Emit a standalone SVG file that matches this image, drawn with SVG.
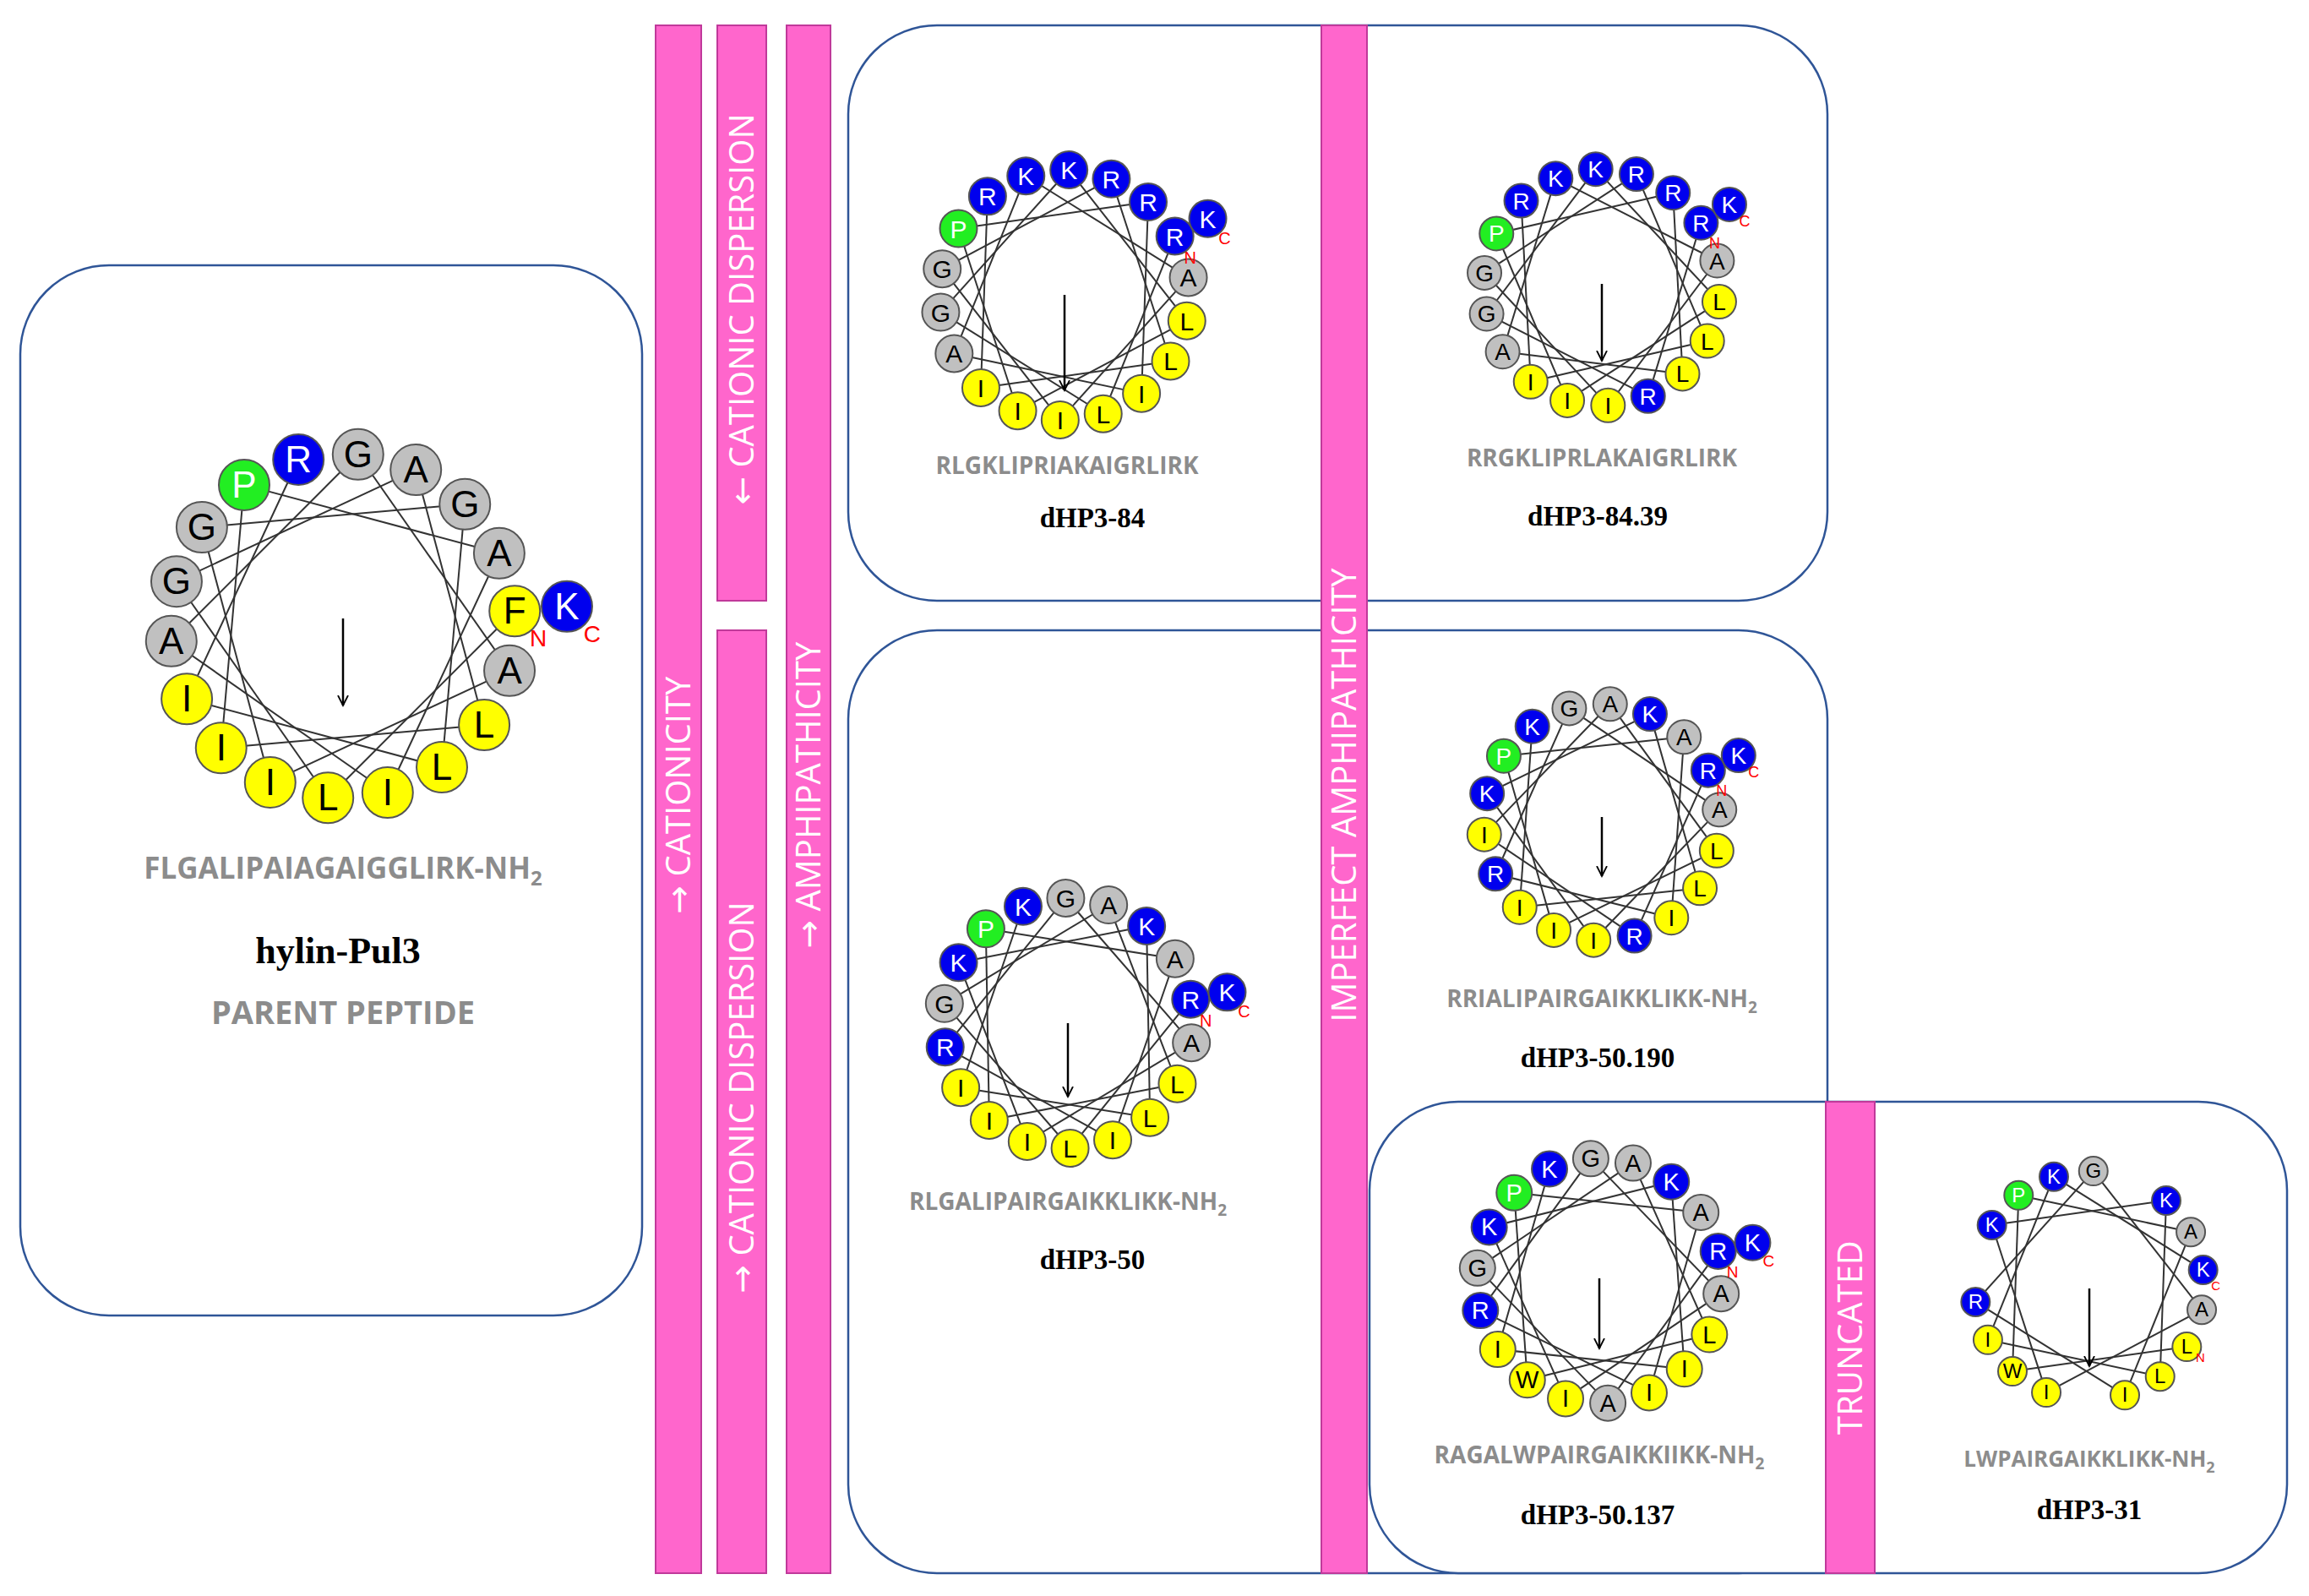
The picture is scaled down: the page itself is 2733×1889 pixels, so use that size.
<svg xmlns="http://www.w3.org/2000/svg" width="2733" height="1889" viewBox="0 0 2733 1889">
<defs>
<style>
.box{fill:#fff;stroke:#2F5597;stroke-width:2.5}
.bar{fill:#FF66CC;stroke:#C0399A;stroke-width:2}
.bt{fill:#fff;font-family:"Open Sans","Liberation Sans",sans-serif;font-size:40px;text-anchor:middle}
.ar{font-family:"DejaVu Sans",sans-serif;font-size:40px}
.ln line{stroke:#333;stroke-width:2;fill:none}
circle{stroke:#555;stroke-width:2}
.b{fill:#0000EE}.g{fill:#22EE22}.y{fill:#FFFF00}.a{fill:#C0C0C0}
.res text{font-family:"Liberation Sans",Arial,sans-serif;text-anchor:middle}
.tk{fill:#000}.tw{fill:#fff}
.res text.nc{fill:#FF0000}
.seq{fill:#8C8C8C;font-family:"Open Sans","Liberation Sans",sans-serif;font-weight:bold;text-anchor:middle}
.nm{fill:#000;font-family:"Liberation Serif","Times New Roman",serif;font-weight:bold;text-anchor:middle}
.arr{stroke:#000;stroke-width:2.5;marker-end:url(#ah)}
</style>
<marker id="ah" markerWidth="14" markerHeight="14" refX="12" refY="7" orient="auto" markerUnits="userSpaceOnUse" viewBox="0 0 14 14"><path d="M0,1 L12,7 L0,13" fill="none" stroke="#000" stroke-width="1.8"/></marker>
</defs>
<rect width="2733" height="1889" fill="#fff"/>

<g id="box-parent"><rect class="box" x="24" y="314" width="736" height="1243" rx="105"/></g>
<g id="box-84"><rect class="box" x="1004" y="30" width="1159" height="681" rx="105"/></g>
<g id="box-50"><rect class="box" x="1004" y="746" width="1159" height="1116" rx="105"/></g>
<g id="box-31"><rect class="box" x="1621" y="1304" width="1086" height="558" rx="105"/></g>

<g id="bar-cationicity"><rect class="bar" x="776" y="30" width="54" height="1832"/><text class="bt" transform="translate(803,941) rotate(-90)" dy="14"><tspan class="ar">→</tspan> CATIONICITY</text></g>
<g id="bar-disp1"><rect class="bar" x="849" y="30" width="58" height="681"/><text class="bt" transform="translate(878,366) rotate(-90)" dy="14"><tspan class="ar">←</tspan> CATIONIC DISPERSION</text></g>
<g id="bar-disp2"><rect class="bar" x="849" y="746" width="58" height="1116"/><text class="bt" transform="translate(878,1299) rotate(-90)" dy="14"><tspan class="ar">→</tspan> CATIONIC DISPERSION</text></g>
<g id="bar-amph"><rect class="bar" x="931" y="30" width="52" height="1832"/><text class="bt" transform="translate(957,941) rotate(-90)" dy="14"><tspan class="ar">→</tspan> AMPHIPATHICITY</text></g>
<g id="bar-imperfect"><rect class="bar" x="1564" y="30" width="54" height="1832"/><text class="bt" transform="translate(1591,941) rotate(-90)" dy="14">IMPERFECT AMPHIPATHICITY</text></g>
<g id="bar-truncated"><rect class="bar" x="2161" y="1304" width="58" height="558"/><text class="bt" transform="translate(2190,1583) rotate(-90)" dy="14">TRUNCATED</text></g>

<g id="connectors" class="ln">
<g transform="translate(406,741)">
<line transform="rotate(85)" y1="-204" x2="200.9" y2="35.4"/><line transform="rotate(185)" y1="-204" x2="200.9" y2="35.4"/><line transform="rotate(285)" y1="-204" x2="200.9" y2="35.4"/><line transform="rotate(25)" y1="-204" x2="200.9" y2="35.4"/><line transform="rotate(125)" y1="-204" x2="200.9" y2="35.4"/><line transform="rotate(225)" y1="-204" x2="200.9" y2="35.4"/><line transform="rotate(325)" y1="-204" x2="200.9" y2="35.4"/><line transform="rotate(65)" y1="-204" x2="200.9" y2="35.4"/><line transform="rotate(165)" y1="-204" x2="200.9" y2="35.4"/><line transform="rotate(265)" y1="-204" x2="200.9" y2="35.4"/><line transform="rotate(5)" y1="-204" x2="200.9" y2="35.4"/><line transform="rotate(105)" y1="-204" x2="200.9" y2="35.4"/><line transform="rotate(205)" y1="-204" x2="200.9" y2="35.4"/><line transform="rotate(305)" y1="-204" x2="200.9" y2="35.4"/><line transform="rotate(45)" y1="-204" x2="200.9" y2="35.4"/><line transform="rotate(145)" y1="-204" x2="200.9" y2="35.4"/><line transform="rotate(245)" y1="-204" x2="200.9" y2="35.4"/>
</g>
<g transform="translate(1260,349)">
<line transform="rotate(62)" y1="-148" x2="145.8" y2="25.7"/><line transform="rotate(162)" y1="-148" x2="145.8" y2="25.7"/><line transform="rotate(262)" y1="-148" x2="145.8" y2="25.7"/><line transform="rotate(2)" y1="-148" x2="145.8" y2="25.7"/><line transform="rotate(102)" y1="-148" x2="145.8" y2="25.7"/><line transform="rotate(202)" y1="-148" x2="145.8" y2="25.7"/><line transform="rotate(302)" y1="-148" x2="145.8" y2="25.7"/><line transform="rotate(42)" y1="-148" x2="145.8" y2="25.7"/><line transform="rotate(142)" y1="-148" x2="145.8" y2="25.7"/><line transform="rotate(242)" y1="-148" x2="145.8" y2="25.7"/><line transform="rotate(342)" y1="-148" x2="145.8" y2="25.7"/><line transform="rotate(82)" y1="-148" x2="145.8" y2="25.7"/><line transform="rotate(182)" y1="-148" x2="145.8" y2="25.7"/><line transform="rotate(282)" y1="-148" x2="145.8" y2="25.7"/><line transform="rotate(22)" y1="-148" x2="145.8" y2="25.7"/><line transform="rotate(122)" y1="-148" x2="145.8" y2="25.7"/><line transform="rotate(222)" y1="-148" x2="145.8" y2="25.7"/>
</g>
<g transform="translate(1896,340)">
<line transform="rotate(57)" y1="-140" x2="137.9" y2="24.3"/><line transform="rotate(157)" y1="-140" x2="137.9" y2="24.3"/><line transform="rotate(257)" y1="-140" x2="137.9" y2="24.3"/><line transform="rotate(357)" y1="-140" x2="137.9" y2="24.3"/><line transform="rotate(97)" y1="-140" x2="137.9" y2="24.3"/><line transform="rotate(197)" y1="-140" x2="137.9" y2="24.3"/><line transform="rotate(297)" y1="-140" x2="137.9" y2="24.3"/><line transform="rotate(37)" y1="-140" x2="137.9" y2="24.3"/><line transform="rotate(137)" y1="-140" x2="137.9" y2="24.3"/><line transform="rotate(237)" y1="-140" x2="137.9" y2="24.3"/><line transform="rotate(337)" y1="-140" x2="137.9" y2="24.3"/><line transform="rotate(77)" y1="-140" x2="137.9" y2="24.3"/><line transform="rotate(177)" y1="-140" x2="137.9" y2="24.3"/><line transform="rotate(277)" y1="-140" x2="137.9" y2="24.3"/><line transform="rotate(17)" y1="-140" x2="137.9" y2="24.3"/><line transform="rotate(117)" y1="-140" x2="137.9" y2="24.3"/><line transform="rotate(217)" y1="-140" x2="137.9" y2="24.3"/>
</g>
<g transform="translate(1264,1211)">
<line transform="rotate(79)" y1="-148" x2="145.8" y2="25.7"/><line transform="rotate(179)" y1="-148" x2="145.8" y2="25.7"/><line transform="rotate(279)" y1="-148" x2="145.8" y2="25.7"/><line transform="rotate(19)" y1="-148" x2="145.8" y2="25.7"/><line transform="rotate(119)" y1="-148" x2="145.8" y2="25.7"/><line transform="rotate(219)" y1="-148" x2="145.8" y2="25.7"/><line transform="rotate(319)" y1="-148" x2="145.8" y2="25.7"/><line transform="rotate(59)" y1="-148" x2="145.8" y2="25.7"/><line transform="rotate(159)" y1="-148" x2="145.8" y2="25.7"/><line transform="rotate(259)" y1="-148" x2="145.8" y2="25.7"/><line transform="rotate(359)" y1="-148" x2="145.8" y2="25.7"/><line transform="rotate(99)" y1="-148" x2="145.8" y2="25.7"/><line transform="rotate(199)" y1="-148" x2="145.8" y2="25.7"/><line transform="rotate(299)" y1="-148" x2="145.8" y2="25.7"/><line transform="rotate(39)" y1="-148" x2="145.8" y2="25.7"/><line transform="rotate(139)" y1="-148" x2="145.8" y2="25.7"/><line transform="rotate(239)" y1="-148" x2="145.8" y2="25.7"/>
</g>
<g transform="translate(1896,973)">
<line transform="rotate(64)" y1="-140" x2="137.9" y2="24.3"/><line transform="rotate(164)" y1="-140" x2="137.9" y2="24.3"/><line transform="rotate(264)" y1="-140" x2="137.9" y2="24.3"/><line transform="rotate(4)" y1="-140" x2="137.9" y2="24.3"/><line transform="rotate(104)" y1="-140" x2="137.9" y2="24.3"/><line transform="rotate(204)" y1="-140" x2="137.9" y2="24.3"/><line transform="rotate(304)" y1="-140" x2="137.9" y2="24.3"/><line transform="rotate(44)" y1="-140" x2="137.9" y2="24.3"/><line transform="rotate(144)" y1="-140" x2="137.9" y2="24.3"/><line transform="rotate(244)" y1="-140" x2="137.9" y2="24.3"/><line transform="rotate(344)" y1="-140" x2="137.9" y2="24.3"/><line transform="rotate(84)" y1="-140" x2="137.9" y2="24.3"/><line transform="rotate(184)" y1="-140" x2="137.9" y2="24.3"/><line transform="rotate(284)" y1="-140" x2="137.9" y2="24.3"/><line transform="rotate(24)" y1="-140" x2="137.9" y2="24.3"/><line transform="rotate(124)" y1="-140" x2="137.9" y2="24.3"/><line transform="rotate(224)" y1="-140" x2="137.9" y2="24.3"/>
</g>
<g transform="translate(1893,1516)">
<line transform="rotate(76)" y1="-145" x2="142.8" y2="25.2"/><line transform="rotate(176)" y1="-145" x2="142.8" y2="25.2"/><line transform="rotate(276)" y1="-145" x2="142.8" y2="25.2"/><line transform="rotate(16)" y1="-145" x2="142.8" y2="25.2"/><line transform="rotate(116)" y1="-145" x2="142.8" y2="25.2"/><line transform="rotate(216)" y1="-145" x2="142.8" y2="25.2"/><line transform="rotate(316)" y1="-145" x2="142.8" y2="25.2"/><line transform="rotate(56)" y1="-145" x2="142.8" y2="25.2"/><line transform="rotate(156)" y1="-145" x2="142.8" y2="25.2"/><line transform="rotate(256)" y1="-145" x2="142.8" y2="25.2"/><line transform="rotate(356)" y1="-145" x2="142.8" y2="25.2"/><line transform="rotate(96)" y1="-145" x2="142.8" y2="25.2"/><line transform="rotate(196)" y1="-145" x2="142.8" y2="25.2"/><line transform="rotate(296)" y1="-145" x2="142.8" y2="25.2"/><line transform="rotate(36)" y1="-145" x2="142.8" y2="25.2"/><line transform="rotate(136)" y1="-145" x2="142.8" y2="25.2"/><line transform="rotate(236)" y1="-145" x2="142.8" y2="25.2"/>
</g>
<g transform="translate(2473,1522)">
<line transform="rotate(122)" y1="-136" x2="133.9" y2="23.6"/><line transform="rotate(222)" y1="-136" x2="133.9" y2="23.6"/><line transform="rotate(322)" y1="-136" x2="133.9" y2="23.6"/><line transform="rotate(62)" y1="-136" x2="133.9" y2="23.6"/><line transform="rotate(162)" y1="-136" x2="133.9" y2="23.6"/><line transform="rotate(262)" y1="-136" x2="133.9" y2="23.6"/><line transform="rotate(2)" y1="-136" x2="133.9" y2="23.6"/><line transform="rotate(102)" y1="-136" x2="133.9" y2="23.6"/><line transform="rotate(202)" y1="-136" x2="133.9" y2="23.6"/><line transform="rotate(302)" y1="-136" x2="133.9" y2="23.6"/><line transform="rotate(42)" y1="-136" x2="133.9" y2="23.6"/><line transform="rotate(142)" y1="-136" x2="133.9" y2="23.6"/><line transform="rotate(242)" y1="-136" x2="133.9" y2="23.6"/><line transform="rotate(342)" y1="-136" x2="133.9" y2="23.6"/>
</g>
</g>

<g id="wheel-hylin" class="res" transform="translate(406,741)" font-size="44">
<g transform="rotate(85) translate(0,-204) rotate(-85)"><circle class="y" r="30"/><text class="tk" dy="15">F</text></g>
<g transform="rotate(185) translate(0,-204) rotate(-185)"><circle class="y" r="30"/><text class="tk" dy="15">L</text></g>
<g transform="rotate(285) translate(0,-204) rotate(-285)"><circle class="a" r="30"/><text class="tk" dy="15">G</text></g>
<g transform="rotate(25) translate(0,-204) rotate(-25)"><circle class="a" r="30"/><text class="tk" dy="15">A</text></g>
<g transform="rotate(125) translate(0,-204) rotate(-125)"><circle class="y" r="30"/><text class="tk" dy="15">L</text></g>
<g transform="rotate(225) translate(0,-204) rotate(-225)"><circle class="y" r="30"/><text class="tk" dy="15">I</text></g>
<g transform="rotate(325) translate(0,-204) rotate(-325)"><circle class="g" r="30"/><text class="tw" dy="15">P</text></g>
<g transform="rotate(65) translate(0,-204) rotate(-65)"><circle class="a" r="30"/><text class="tk" dy="15">A</text></g>
<g transform="rotate(165) translate(0,-204) rotate(-165)"><circle class="y" r="30"/><text class="tk" dy="15">I</text></g>
<g transform="rotate(265) translate(0,-204) rotate(-265)"><circle class="a" r="30"/><text class="tk" dy="15">A</text></g>
<g transform="rotate(5) translate(0,-204) rotate(-5)"><circle class="a" r="30"/><text class="tk" dy="15">G</text></g>
<g transform="rotate(105) translate(0,-204) rotate(-105)"><circle class="a" r="30"/><text class="tk" dy="15">A</text></g>
<g transform="rotate(205) translate(0,-204) rotate(-205)"><circle class="y" r="30"/><text class="tk" dy="15">I</text></g>
<g transform="rotate(305) translate(0,-204) rotate(-305)"><circle class="a" r="30"/><text class="tk" dy="15">G</text></g>
<g transform="rotate(45) translate(0,-204) rotate(-45)"><circle class="a" r="30"/><text class="tk" dy="15">G</text></g>
<g transform="rotate(145) translate(0,-204) rotate(-145)"><circle class="y" r="30"/><text class="tk" dy="15">L</text></g>
<g transform="rotate(245) translate(0,-204) rotate(-245)"><circle class="y" r="30"/><text class="tk" dy="15">I</text></g>
<g transform="rotate(345) translate(0,-204) rotate(-345)"><circle class="b" r="30"/><text class="tw" dy="15">R</text></g>
<g transform="rotate(85) translate(0,-266) rotate(-85)"><circle class="b" r="30"/><text class="tw" dy="15">K</text><text class="nc" x="30" y="42" font-size="28">C</text></g>
<g transform="rotate(85) translate(0,-204) rotate(-85)"><text class="nc" x="28" y="42" font-size="28">N</text></g>
<line class="arr" x1="0" y1="-9" x2="0" y2="94"/>
</g>
<g id="label-hylin">
<text class="seq" x="406" y="1040" font-size="35">FLGALIPAIAGAIGGLIRK-NH<tspan font-size="24" dy="8">2</tspan></text>
<text class="nm" x="400" y="1140" font-size="44">hylin-Pul3</text>
<text class="seq" x="406" y="1212" font-size="38">PARENT PEPTIDE</text>
</g>

<g id="wheel-84" class="res" transform="translate(1260,349)" font-size="30">
<g transform="rotate(62) translate(0,-148) rotate(-62)"><circle class="b" r="22"/><text class="tw" dy="11">R</text></g>
<g transform="rotate(162) translate(0,-148) rotate(-162)"><circle class="y" r="22"/><text class="tk" dy="11">L</text></g>
<g transform="rotate(262) translate(0,-148) rotate(-262)"><circle class="a" r="22"/><text class="tk" dy="11">G</text></g>
<g transform="rotate(2) translate(0,-148) rotate(-2)"><circle class="b" r="22"/><text class="tw" dy="11">K</text></g>
<g transform="rotate(102) translate(0,-148) rotate(-102)"><circle class="y" r="22"/><text class="tk" dy="11">L</text></g>
<g transform="rotate(202) translate(0,-148) rotate(-202)"><circle class="y" r="22"/><text class="tk" dy="11">I</text></g>
<g transform="rotate(302) translate(0,-148) rotate(-302)"><circle class="g" r="22"/><text class="tw" dy="11">P</text></g>
<g transform="rotate(42) translate(0,-148) rotate(-42)"><circle class="b" r="22"/><text class="tw" dy="11">R</text></g>
<g transform="rotate(142) translate(0,-148) rotate(-142)"><circle class="y" r="22"/><text class="tk" dy="11">I</text></g>
<g transform="rotate(242) translate(0,-148) rotate(-242)"><circle class="a" r="22"/><text class="tk" dy="11">A</text></g>
<g transform="rotate(342) translate(0,-148) rotate(-342)"><circle class="b" r="22"/><text class="tw" dy="11">K</text></g>
<g transform="rotate(82) translate(0,-148) rotate(-82)"><circle class="a" r="22"/><text class="tk" dy="11">A</text></g>
<g transform="rotate(182) translate(0,-148) rotate(-182)"><circle class="y" r="22"/><text class="tk" dy="11">I</text></g>
<g transform="rotate(282) translate(0,-148) rotate(-282)"><circle class="a" r="22"/><text class="tk" dy="11">G</text></g>
<g transform="rotate(22) translate(0,-148) rotate(-22)"><circle class="b" r="22"/><text class="tw" dy="11">R</text></g>
<g transform="rotate(122) translate(0,-148) rotate(-122)"><circle class="y" r="22"/><text class="tk" dy="11">L</text></g>
<g transform="rotate(222) translate(0,-148) rotate(-222)"><circle class="y" r="22"/><text class="tk" dy="11">I</text></g>
<g transform="rotate(322) translate(0,-148) rotate(-322)"><circle class="b" r="22"/><text class="tw" dy="11">R</text></g>
<g transform="rotate(62) translate(0,-192) rotate(-62)"><circle class="b" r="22"/><text class="tw" dy="11">K</text><text class="nc" x="20" y="30" font-size="20">C</text></g>
<g transform="rotate(62) translate(0,-148) rotate(-62)"><text class="nc" x="18" y="32" font-size="20">N</text></g>
<line class="arr" x1="0" y1="0" x2="0" y2="113"/>
</g>
<g id="label-84"><text class="seq" x="1263" y="561" font-size="28">RLGKLIPRIAKAIGRLIRK</text><text class="nm" x="1293" y="624" font-size="33">dHP3-84</text></g>

<g id="wheel-84-39" class="res" transform="translate(1896,340)" font-size="28">
<g transform="rotate(57) translate(0,-140) rotate(-57)"><circle class="b" r="20"/><text class="tw" dy="10">R</text></g>
<g transform="rotate(157) translate(0,-140) rotate(-157)"><circle class="b" r="20"/><text class="tw" dy="10">R</text></g>
<g transform="rotate(257) translate(0,-140) rotate(-257)"><circle class="a" r="20"/><text class="tk" dy="10">G</text></g>
<g transform="rotate(357) translate(0,-140) rotate(-357)"><circle class="b" r="20"/><text class="tw" dy="10">K</text></g>
<g transform="rotate(97) translate(0,-140) rotate(-97)"><circle class="y" r="20"/><text class="tk" dy="10">L</text></g>
<g transform="rotate(197) translate(0,-140) rotate(-197)"><circle class="y" r="20"/><text class="tk" dy="10">I</text></g>
<g transform="rotate(297) translate(0,-140) rotate(-297)"><circle class="g" r="20"/><text class="tw" dy="10">P</text></g>
<g transform="rotate(37) translate(0,-140) rotate(-37)"><circle class="b" r="20"/><text class="tw" dy="10">R</text></g>
<g transform="rotate(137) translate(0,-140) rotate(-137)"><circle class="y" r="20"/><text class="tk" dy="10">L</text></g>
<g transform="rotate(237) translate(0,-140) rotate(-237)"><circle class="a" r="20"/><text class="tk" dy="10">A</text></g>
<g transform="rotate(337) translate(0,-140) rotate(-337)"><circle class="b" r="20"/><text class="tw" dy="10">K</text></g>
<g transform="rotate(77) translate(0,-140) rotate(-77)"><circle class="a" r="20"/><text class="tk" dy="10">A</text></g>
<g transform="rotate(177) translate(0,-140) rotate(-177)"><circle class="y" r="20"/><text class="tk" dy="10">I</text></g>
<g transform="rotate(277) translate(0,-140) rotate(-277)"><circle class="a" r="20"/><text class="tk" dy="10">G</text></g>
<g transform="rotate(17) translate(0,-140) rotate(-17)"><circle class="b" r="20"/><text class="tw" dy="10">R</text></g>
<g transform="rotate(117) translate(0,-140) rotate(-117)"><circle class="y" r="20"/><text class="tk" dy="10">L</text></g>
<g transform="rotate(217) translate(0,-140) rotate(-217)"><circle class="y" r="20"/><text class="tk" dy="10">I</text></g>
<g transform="rotate(317) translate(0,-140) rotate(-317)"><circle class="b" r="20"/><text class="tw" dy="10">R</text></g>
<g transform="rotate(57) translate(0,-180) rotate(-57)"><circle class="b" r="20"/><text class="tw" dy="10">K</text><text class="nc" x="18" y="26" font-size="18">C</text></g>
<g transform="rotate(57) translate(0,-140) rotate(-57)"><text class="nc" x="16" y="30" font-size="18">N</text></g>
<line class="arr" x1="0" y1="-4" x2="0" y2="87"/>
</g>
<g id="label-84-39"><text class="seq" x="1896" y="552" font-size="28">RRGKLIPRLAKAIGRLIRK</text><text class="nm" x="1891" y="622" font-size="33">dHP3-84.39</text></g>

<g id="wheel-50" class="res" transform="translate(1264,1211)" font-size="30">
<g transform="rotate(79) translate(0,-148) rotate(-79)"><circle class="b" r="22"/><text class="tw" dy="11">R</text></g>
<g transform="rotate(179) translate(0,-148) rotate(-179)"><circle class="y" r="22"/><text class="tk" dy="11">L</text></g>
<g transform="rotate(279) translate(0,-148) rotate(-279)"><circle class="a" r="22"/><text class="tk" dy="11">G</text></g>
<g transform="rotate(19) translate(0,-148) rotate(-19)"><circle class="a" r="22"/><text class="tk" dy="11">A</text></g>
<g transform="rotate(119) translate(0,-148) rotate(-119)"><circle class="y" r="22"/><text class="tk" dy="11">L</text></g>
<g transform="rotate(219) translate(0,-148) rotate(-219)"><circle class="y" r="22"/><text class="tk" dy="11">I</text></g>
<g transform="rotate(319) translate(0,-148) rotate(-319)"><circle class="g" r="22"/><text class="tw" dy="11">P</text></g>
<g transform="rotate(59) translate(0,-148) rotate(-59)"><circle class="a" r="22"/><text class="tk" dy="11">A</text></g>
<g transform="rotate(159) translate(0,-148) rotate(-159)"><circle class="y" r="22"/><text class="tk" dy="11">I</text></g>
<g transform="rotate(259) translate(0,-148) rotate(-259)"><circle class="b" r="22"/><text class="tw" dy="11">R</text></g>
<g transform="rotate(359) translate(0,-148) rotate(-359)"><circle class="a" r="22"/><text class="tk" dy="11">G</text></g>
<g transform="rotate(99) translate(0,-148) rotate(-99)"><circle class="a" r="22"/><text class="tk" dy="11">A</text></g>
<g transform="rotate(199) translate(0,-148) rotate(-199)"><circle class="y" r="22"/><text class="tk" dy="11">I</text></g>
<g transform="rotate(299) translate(0,-148) rotate(-299)"><circle class="b" r="22"/><text class="tw" dy="11">K</text></g>
<g transform="rotate(39) translate(0,-148) rotate(-39)"><circle class="b" r="22"/><text class="tw" dy="11">K</text></g>
<g transform="rotate(139) translate(0,-148) rotate(-139)"><circle class="y" r="22"/><text class="tk" dy="11">L</text></g>
<g transform="rotate(239) translate(0,-148) rotate(-239)"><circle class="y" r="22"/><text class="tk" dy="11">I</text></g>
<g transform="rotate(339) translate(0,-148) rotate(-339)"><circle class="b" r="22"/><text class="tw" dy="11">K</text></g>
<g transform="rotate(79) translate(0,-192) rotate(-79)"><circle class="b" r="22"/><text class="tw" dy="11">K</text><text class="nc" x="20" y="30" font-size="20">C</text></g>
<g transform="rotate(79) translate(0,-148) rotate(-79)"><text class="nc" x="18" y="32" font-size="20">N</text></g>
<line class="arr" x1="0" y1="0" x2="0" y2="87"/>
</g>
<g id="label-50"><text class="seq" x="1264" y="1432" font-size="28">RLGALIPAIRGAIKKLIKK-NH<tspan font-size="19" dy="7">2</tspan></text><text class="nm" x="1293" y="1502" font-size="33">dHP3-50</text></g>

<g id="wheel-50-190" class="res" transform="translate(1896,973)" font-size="28">
<g transform="rotate(64) translate(0,-140) rotate(-64)"><circle class="b" r="20"/><text class="tw" dy="10">R</text></g>
<g transform="rotate(164) translate(0,-140) rotate(-164)"><circle class="b" r="20"/><text class="tw" dy="10">R</text></g>
<g transform="rotate(264) translate(0,-140) rotate(-264)"><circle class="y" r="20"/><text class="tk" dy="10">I</text></g>
<g transform="rotate(4) translate(0,-140) rotate(-4)"><circle class="a" r="20"/><text class="tk" dy="10">A</text></g>
<g transform="rotate(104) translate(0,-140) rotate(-104)"><circle class="y" r="20"/><text class="tk" dy="10">L</text></g>
<g transform="rotate(204) translate(0,-140) rotate(-204)"><circle class="y" r="20"/><text class="tk" dy="10">I</text></g>
<g transform="rotate(304) translate(0,-140) rotate(-304)"><circle class="g" r="20"/><text class="tw" dy="10">P</text></g>
<g transform="rotate(44) translate(0,-140) rotate(-44)"><circle class="a" r="20"/><text class="tk" dy="10">A</text></g>
<g transform="rotate(144) translate(0,-140) rotate(-144)"><circle class="y" r="20"/><text class="tk" dy="10">I</text></g>
<g transform="rotate(244) translate(0,-140) rotate(-244)"><circle class="b" r="20"/><text class="tw" dy="10">R</text></g>
<g transform="rotate(344) translate(0,-140) rotate(-344)"><circle class="a" r="20"/><text class="tk" dy="10">G</text></g>
<g transform="rotate(84) translate(0,-140) rotate(-84)"><circle class="a" r="20"/><text class="tk" dy="10">A</text></g>
<g transform="rotate(184) translate(0,-140) rotate(-184)"><circle class="y" r="20"/><text class="tk" dy="10">I</text></g>
<g transform="rotate(284) translate(0,-140) rotate(-284)"><circle class="b" r="20"/><text class="tw" dy="10">K</text></g>
<g transform="rotate(24) translate(0,-140) rotate(-24)"><circle class="b" r="20"/><text class="tw" dy="10">K</text></g>
<g transform="rotate(124) translate(0,-140) rotate(-124)"><circle class="y" r="20"/><text class="tk" dy="10">L</text></g>
<g transform="rotate(224) translate(0,-140) rotate(-224)"><circle class="y" r="20"/><text class="tk" dy="10">I</text></g>
<g transform="rotate(324) translate(0,-140) rotate(-324)"><circle class="b" r="20"/><text class="tw" dy="10">K</text></g>
<g transform="rotate(64) translate(0,-180) rotate(-64)"><circle class="b" r="20"/><text class="tw" dy="10">K</text><text class="nc" x="18" y="26" font-size="18">C</text></g>
<g transform="rotate(64) translate(0,-140) rotate(-64)"><text class="nc" x="16" y="30" font-size="18">N</text></g>
<line class="arr" x1="0" y1="-6" x2="0" y2="64"/>
</g>
<g id="label-50-190"><text class="seq" x="1896" y="1192" font-size="28">RRIALIPAIRGAIKKLIKK-NH<tspan font-size="19" dy="7">2</tspan></text><text class="nm" x="1891" y="1263" font-size="33">dHP3-50.190</text></g>

<g id="wheel-50-137" class="res" transform="translate(1893,1516)" font-size="29">
<g transform="rotate(76) translate(0,-145) rotate(-76)"><circle class="b" r="21"/><text class="tw" dy="10">R</text></g>
<g transform="rotate(176) translate(0,-145) rotate(-176)"><circle class="a" r="21"/><text class="tk" dy="10">A</text></g>
<g transform="rotate(276) translate(0,-145) rotate(-276)"><circle class="a" r="21"/><text class="tk" dy="10">G</text></g>
<g transform="rotate(16) translate(0,-145) rotate(-16)"><circle class="a" r="21"/><text class="tk" dy="10">A</text></g>
<g transform="rotate(116) translate(0,-145) rotate(-116)"><circle class="y" r="21"/><text class="tk" dy="10">L</text></g>
<g transform="rotate(216) translate(0,-145) rotate(-216)"><circle class="y" r="21"/><text class="tk" dy="10">W</text></g>
<g transform="rotate(316) translate(0,-145) rotate(-316)"><circle class="g" r="21"/><text class="tw" dy="10">P</text></g>
<g transform="rotate(56) translate(0,-145) rotate(-56)"><circle class="a" r="21"/><text class="tk" dy="10">A</text></g>
<g transform="rotate(156) translate(0,-145) rotate(-156)"><circle class="y" r="21"/><text class="tk" dy="10">I</text></g>
<g transform="rotate(256) translate(0,-145) rotate(-256)"><circle class="b" r="21"/><text class="tw" dy="10">R</text></g>
<g transform="rotate(356) translate(0,-145) rotate(-356)"><circle class="a" r="21"/><text class="tk" dy="10">G</text></g>
<g transform="rotate(96) translate(0,-145) rotate(-96)"><circle class="a" r="21"/><text class="tk" dy="10">A</text></g>
<g transform="rotate(196) translate(0,-145) rotate(-196)"><circle class="y" r="21"/><text class="tk" dy="10">I</text></g>
<g transform="rotate(296) translate(0,-145) rotate(-296)"><circle class="b" r="21"/><text class="tw" dy="10">K</text></g>
<g transform="rotate(36) translate(0,-145) rotate(-36)"><circle class="b" r="21"/><text class="tw" dy="10">K</text></g>
<g transform="rotate(136) translate(0,-145) rotate(-136)"><circle class="y" r="21"/><text class="tk" dy="10">I</text></g>
<g transform="rotate(236) translate(0,-145) rotate(-236)"><circle class="y" r="21"/><text class="tk" dy="10">I</text></g>
<g transform="rotate(336) translate(0,-145) rotate(-336)"><circle class="b" r="21"/><text class="tw" dy="10">K</text></g>
<g transform="rotate(76) translate(0,-187) rotate(-76)"><circle class="b" r="21"/><text class="tw" dy="10">K</text><text class="nc" x="19" y="28" font-size="19">C</text></g>
<g transform="rotate(76) translate(0,-145) rotate(-76)"><text class="nc" x="17" y="31" font-size="19">N</text></g>
<line class="arr" x1="0" y1="-3" x2="0" y2="80"/>
</g>
<g id="label-50-137"><text class="seq" x="1893" y="1732" font-size="28">RAGALWPAIRGAIKKIIKK-NH<tspan font-size="19" dy="7">2</tspan></text><text class="nm" x="1891" y="1804" font-size="33">dHP3-50.137</text></g>

<g id="wheel-31" class="res" transform="translate(2473,1522)" font-size="24">
<g transform="rotate(122) translate(0,-136) rotate(-122)"><circle class="y" r="17"/><text class="tk" dy="8">L</text></g>
<g transform="rotate(222) translate(0,-136) rotate(-222)"><circle class="y" r="17"/><text class="tk" dy="8">W</text></g>
<g transform="rotate(322) translate(0,-136) rotate(-322)"><circle class="g" r="17"/><text class="tw" dy="8">P</text></g>
<g transform="rotate(62) translate(0,-136) rotate(-62)"><circle class="a" r="17"/><text class="tk" dy="8">A</text></g>
<g transform="rotate(162) translate(0,-136) rotate(-162)"><circle class="y" r="17"/><text class="tk" dy="8">I</text></g>
<g transform="rotate(262) translate(0,-136) rotate(-262)"><circle class="b" r="17"/><text class="tw" dy="8">R</text></g>
<g transform="rotate(2) translate(0,-136) rotate(-2)"><circle class="a" r="17"/><text class="tk" dy="8">G</text></g>
<g transform="rotate(102) translate(0,-136) rotate(-102)"><circle class="a" r="17"/><text class="tk" dy="8">A</text></g>
<g transform="rotate(202) translate(0,-136) rotate(-202)"><circle class="y" r="17"/><text class="tk" dy="8">I</text></g>
<g transform="rotate(302) translate(0,-136) rotate(-302)"><circle class="b" r="17"/><text class="tw" dy="8">K</text></g>
<g transform="rotate(42) translate(0,-136) rotate(-42)"><circle class="b" r="17"/><text class="tw" dy="8">K</text></g>
<g transform="rotate(142) translate(0,-136) rotate(-142)"><circle class="y" r="17"/><text class="tk" dy="8">L</text></g>
<g transform="rotate(242) translate(0,-136) rotate(-242)"><circle class="y" r="17"/><text class="tk" dy="8">I</text></g>
<g transform="rotate(342) translate(0,-136) rotate(-342)"><circle class="b" r="17"/><text class="tw" dy="8">K</text></g>
<g transform="rotate(82) translate(0,-136) rotate(-82)"><circle class="b" r="17"/><text class="tw" dy="8">K</text><text class="nc" x="15" y="24" font-size="15">C</text></g>
<g transform="rotate(122) translate(0,-136) rotate(-122)"><text class="nc" x="16" y="18" font-size="15">N</text></g>
<line class="arr" x1="0" y1="3" x2="0" y2="95"/>
</g>
<g id="label-31"><text class="seq" x="2473" y="1736" font-size="26">LWPAIRGAIKKLIKK-NH<tspan font-size="18" dy="7">2</tspan></text><text class="nm" x="2473" y="1798" font-size="33">dHP3-31</text></g>
</svg>
